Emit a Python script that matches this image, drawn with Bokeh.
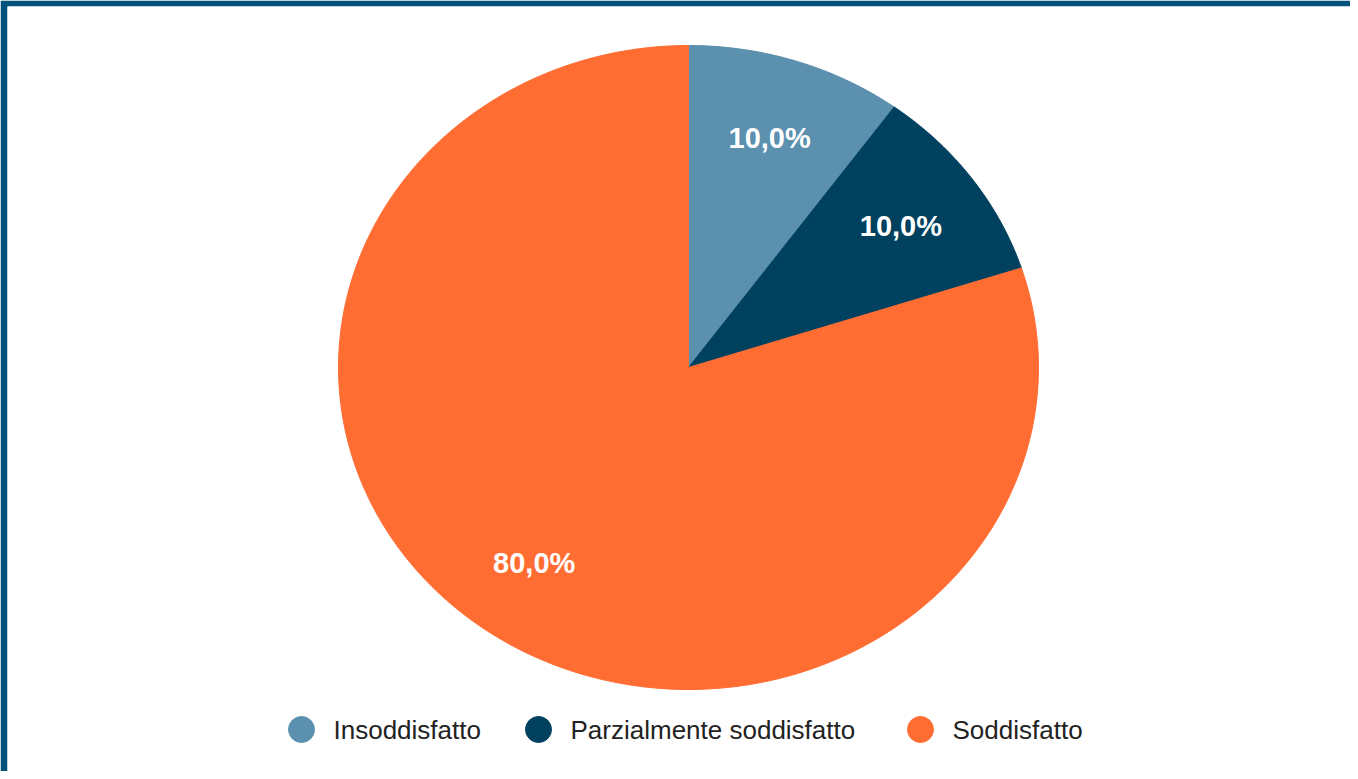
import numpy as np
from bokeh.plotting import figure
from bokeh.models import ColumnDataSource, Range1d
from bokeh.core.properties import value
from bokeh.embed import file_html
from bokeh.resources import INLINE

# ---- data ----
categories = ["Insoddisfatto", "Parzialmente soddisfatto", "Soddisfatto"]
percentages = [10.0, 10.0, 80.0]
colors = ["#5b90ae", "#00415f", "#ff6d33"]

# ---- layout constants (pixels) ----
W, H = 1350, 771
FRAME_LEFT, FRAME_TOP = 7, 6
CX, CY = 688, 367          # pie centre in page pixels
RX, RY = 350, 322          # horizontal / vertical radius in pixels
LEGEND_Y = 729
LEGEND_MARK_X = [301, 538, 920]
LEGEND_TEXT_DX = 32
LABEL_R = 0.75

def px_to_x(px):
    return (px - CX) / RX

def px_to_y(py):
    return (CY - py) / RY

p = figure(width=W, height=H, output_backend="svg", toolbar_location=None,
           x_axis_type=None, y_axis_type=None,
           x_range=Range1d(px_to_x(FRAME_LEFT), px_to_x(W)),
           y_range=Range1d(px_to_y(H), px_to_y(FRAME_TOP)),
           min_border_left=FRAME_LEFT, min_border_top=FRAME_TOP,
           min_border_right=0, min_border_bottom=0,
           border_fill_color="#01527a", background_fill_color="white",
           outline_line_color=None)
p.grid.visible = False

# ---- wedges (clockwise from 12 o'clock), built from the values ----
total = sum(percentages)
cum = np.concatenate([[0.0], np.cumsum(percentages)]) / total * 2 * np.pi
xs, ys, lx, ly, labels = [], [], [], [], []
for i, v in enumerate(percentages):
    a0, a1 = cum[i], cum[i + 1]
    n = max(8, int(200 * (a1 - a0) / (2 * np.pi)) + 8)
    t = np.linspace(a0, a1, n)
    xs.append([0.0] + list(np.sin(t)) + [0.0])
    ys.append([0.0] + list(np.cos(t)) + [0.0])
    am = (a0 + a1) / 2
    lx.append(LABEL_R * np.sin(am))
    ly.append(LABEL_R * np.cos(am))
    labels.append(f"{v / total * 100:.1f}%".replace(".", ","))

src = ColumnDataSource(dict(xs=xs, ys=ys, color=colors))
p.patches("xs", "ys", source=src, fill_color="color", line_color="color", line_width=1)

p.text(lx, ly, text=labels, text_font=value("Liberation Sans"), text_font_style="bold",
       text_font_size="29px", text_color="white", text_align="center",
       text_baseline="middle")

# ---- custom legend ----
mx = [px_to_x(v) for v in LEGEND_MARK_X]
tx = [px_to_x(v + LEGEND_TEXT_DX) for v in LEGEND_MARK_X]
my = [px_to_y(LEGEND_Y)] * len(categories)
p.scatter(mx, my, size=26, marker="circle", fill_color=colors, line_color=colors)
p.text(tx, my, text=categories, text_font=value("Liberation Sans"),
       text_font_size="26px", text_color="#222222", text_align="left",
       text_baseline="middle")

open("out.html", "w").write(file_html(p, INLINE))
